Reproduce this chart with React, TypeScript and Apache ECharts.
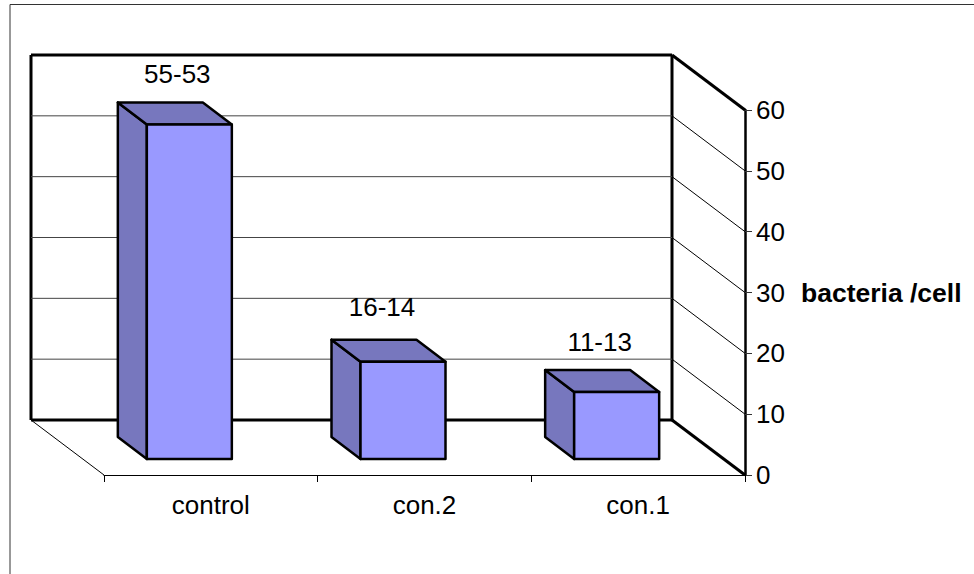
import React, { useEffect, useRef } from "react";
import * as echarts from "echarts";

const categories = ["control", "con.2", "con.1"];
const barValues = [55, 16, 11];
const barLabels = ["55-53", "16-14", "11-13"];
const labelNudgeX = [-12, -21, -17];
const labelNudgeY = [-28, -33, -28];
const wallTicks = [0, 10, 20, 30, 40, 50, 60];

const FONT = '"Liberation Sans", Arial, sans-serif';
const FRONT = "#9999FF";
const SHADE = "#7777BE";
// Oblique projection: how far the back wall and the bars are pushed away from the front plane.
const WALL_DX = -73;
const WALL_DY = -55;
const BAR_OFFSET_DX = -21.5;
const BAR_OFFSET_DY = -16;
const BAR_DEPTH_DX = -29;
const BAR_DEPTH_DY = -22;
const BAR_WIDTH = 85;

function renderWall(params: any, api: any) {
  const value = api.value(0);
  const sys = params.coordSys;
  const left = sys.x;
  const right = sys.x + sys.width;
  const y = api.coord([categories[0], value])[1];
  const isEdge = value === 0 || value === 60;
  const children: any[] = [
    {
      type: "polyline",
      shape: { points: [[left + WALL_DX, y + WALL_DY], [right + WALL_DX, y + WALL_DY]] },
      style: { stroke: isEdge ? "#000" : "#444", lineWidth: isEdge ? 3 : 1, fill: "none" },
    },
    {
      type: "polyline",
      shape: { points: [[right + WALL_DX, y + WALL_DY], [right, y]] },
      style: { stroke: "#000", lineWidth: isEdge ? 3 : 1, fill: "none" },
    },
  ];
  if (value === 0) {
    const topY = sys.y + WALL_DY;
    children.push(
      {
        type: "polyline",
        shape: { points: [[left + WALL_DX, y + WALL_DY], [left + WALL_DX, topY]] },
        style: { stroke: "#000", lineWidth: 3, fill: "none" },
      },
      {
        type: "polyline",
        shape: { points: [[right + WALL_DX, y + WALL_DY], [right + WALL_DX, topY]] },
        style: { stroke: "#000", lineWidth: 3, fill: "none" },
      },
      {
        type: "polyline",
        shape: { points: [[left + WALL_DX, y + WALL_DY], [left, y]] },
        style: { stroke: "#000", lineWidth: 1, fill: "none" },
      }
    );
  }
  return { type: "group", children };
}

function renderBar(params: any, api: any) {
  const i = params.dataIndex;
  const top = api.coord([api.value(0), api.value(1)]);
  const base = api.coord([api.value(0), 0]);
  const xL = top[0] + BAR_OFFSET_DX - BAR_WIDTH / 2;
  const xR = xL + BAR_WIDTH;
  const yT = top[1] + BAR_OFFSET_DY;
  const yB = base[1] + BAR_OFFSET_DY;
  const dx = BAR_DEPTH_DX;
  const dy = BAR_DEPTH_DY;
  const edge = { stroke: "#000", lineWidth: 2.5, lineJoin: "round" };
  return {
    type: "group",
    children: [
      {
        type: "polygon",
        shape: { points: [[xL, yT], [xL + dx, yT + dy], [xL + dx, yB + dy], [xL, yB]] },
        style: { fill: SHADE, ...edge },
      },
      {
        type: "polygon",
        shape: { points: [[xL, yT], [xL + dx, yT + dy], [xR + dx, yT + dy], [xR, yT]] },
        style: { fill: SHADE, ...edge },
      },
      {
        type: "rect",
        shape: { x: xL, y: yT, width: BAR_WIDTH, height: yB - yT },
        style: { fill: FRONT, ...edge },
      },
      {
        type: "text",
        style: {
          text: barLabels[i],
          x: (xL + xR) / 2 + labelNudgeX[i],
          y: yT + dy + labelNudgeY[i],
          textAlign: "center",
          textVerticalAlign: "middle",
          font: `26px ${FONT}`,
          fill: "#000",
        },
      },
    ],
  };
}

export default function App() {
  const ref = useRef<HTMLDivElement>(null);
  useEffect(() => {
    const chart = echarts.init(ref.current!, null, { renderer: "svg" });
    chart.setOption({
      animation: false,
      backgroundColor: "#fff",
      grid: { left: 104, right: 229, top: 110, bottom: 99 },
      xAxis: {
        type: "category",
        data: categories,
        axisLine: { show: true, lineStyle: { color: "#000", width: 1 } },
        axisTick: { show: true, length: 7, lineStyle: { color: "#000", width: 1 } },
        axisLabel: { fontFamily: FONT, fontSize: 26, color: "#000", margin: 17 },
        splitLine: { show: false },
      },
      yAxis: {
        type: "value",
        position: "right",
        min: 0,
        max: 60,
        interval: 10,
        name: "bacteria /cell",
        nameLocation: "middle",
        nameRotate: 0,
        nameGap: 56,
        nameTextStyle: { fontFamily: FONT, fontSize: 26.5, fontWeight: "bold", color: "#000", align: "left" },
        axisLine: { show: true, lineStyle: { color: "#000", width: 2.5 } },
        axisTick: { show: true, length: 7, lineStyle: { color: "#333", width: 1 } },
        axisLabel: { fontFamily: FONT, fontSize: 26, color: "#000", margin: 11 },
        splitLine: { show: false },
      },
      graphic: [
        {
          type: "polyline",
          shape: { points: [[10, 574], [10, 4.5], [974, 4.5]] },
          style: { stroke: "#333", lineWidth: 1, fill: "none" },
          silent: true,
        },
      ],
      series: [
        {
          type: "custom",
          z: 1,
          silent: true,
          renderItem: renderWall,
          encode: { y: 0 },
          data: wallTicks.map((v) => [v]),
        },
        {
          type: "custom",
          z: 3,
          silent: true,
          renderItem: renderBar,
          encode: { x: 0, y: 1 },
          data: categories.map((c, i) => [c, barValues[i]]),
        },
      ],
    });
    return () => chart.dispose();
  }, []);
  return <div ref={ref} style={{ position: "fixed", left: 0, top: 0, width: 974, height: 574 }} />;
}
